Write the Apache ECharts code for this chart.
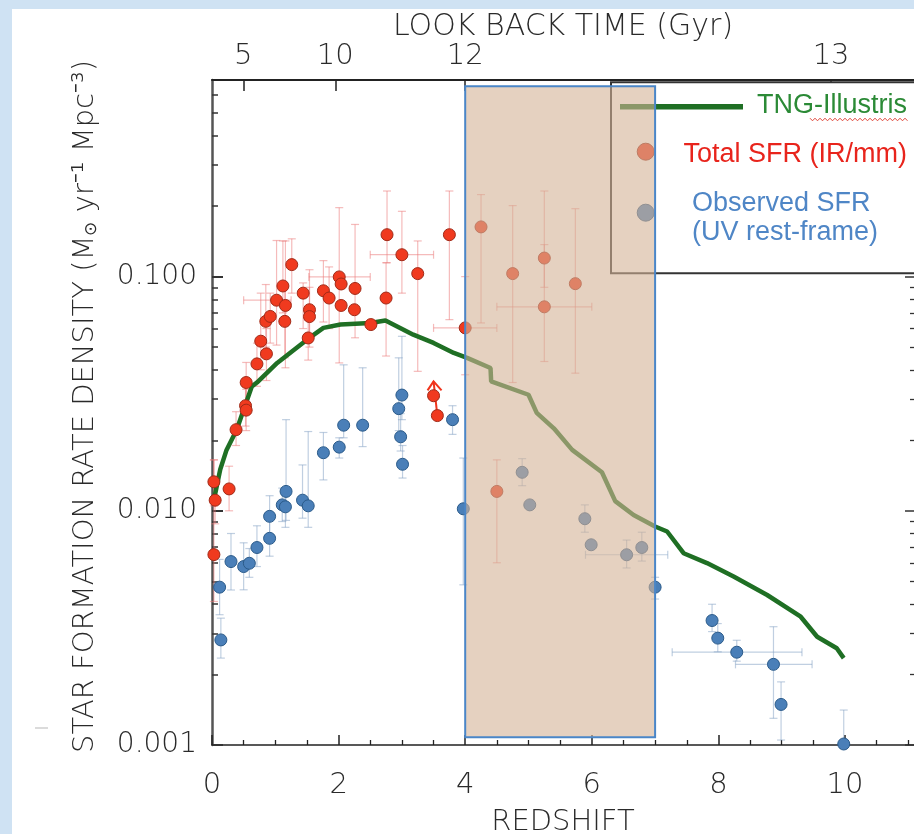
<!DOCTYPE html>
<html><head><meta charset="utf-8">
<script src="https://cdn.jsdelivr.net/npm/echarts@6/dist/echarts.min.js"></script>
<style>
html,body{margin:0;padding:0;background:#cfe2f3;width:914px;height:834px;overflow:hidden}
#c{position:absolute;left:12px;top:9px;width:902px;height:825px;background:#fff}
</style></head><body><div id="c"></div>
<script>
// ---------------- DATA ----------------
// TNG-Illustris model curve
const tngZ    = [0.02,0.13,0.23,0.39,0.63,0.71,1.03,1.50,1.76,2.03,2.50,2.74,3.18,3.50,3.82,4.03,4.40,4.41,5.00,5.13,5.40,5.69,6.16,6.37,6.66,7.00,7.19,7.45,7.82,8.24,8.77,9.30,9.56,9.87,9.98];
const tngSFRD = [0.0108,0.0150,0.0182,0.0222,0.0340,0.0353,0.0428,0.0538,0.0604,0.0624,0.0634,0.0649,0.0565,0.0521,0.0472,0.0450,0.0407,0.0357,0.0313,0.0262,0.0225,0.0182,0.0146,0.0110,0.0096,0.00857,0.00816,0.00659,0.00598,0.00524,0.00437,0.00353,0.00290,0.00259,0.00235];

// Total SFR (IR/mm)
const irZ    = [0.03,0.05,0.03,0.27,0.38,0.53,0.54,0.54,0.71,0.77,0.86,0.85,0.92,1.02,1.12,1.16,1.15,1.26,1.44,1.52,1.54,1.54,1.76,1.85,2.01,2.04,2.04,2.25,2.26,2.51,2.75,2.765,3.00,3.25,3.50,3.56,3.75,4.00,4.25,4.50,4.75,5.25,5.25,5.74];
const irSFRD = [0.0133,0.0111,0.0065,0.0124,0.0222,0.0281,0.0269,0.0353,0.0424,0.0530,0.0468,0.0644,0.0676,0.0793,0.0912,0.0753,0.0644,0.1125,0.0850,0.0547,0.0722,0.0675,0.0870,0.0810,0.0997,0.0930,0.0753,0.0722,0.0890,0.0624,0.0810,0.1510,0.1240,0.1030,0.0310,0.0255,0.1510,0.0604,0.1630,0.0121,0.1030,0.1200,0.0743,0.0933];
const irLo   = [0.0105,0.0088,0.0041,0.0100,0.0190,0.0230,0.0220,0.0290,0.0340,0.0400,0.0360,0.0500,0.0520,0.0510,0.0700,0.0408,0.0450,0.0850,0.0600,0.0440,0.0550,0.0500,0.0640,0.0600,0.0428,null,null,null,0.0548,null,0.0458,0.1146,0.0850,0.0394,null,null,0.0655,0.0381,0.0634,0.0060,0.0353,0.0900,0.0434,0.0387];
const irHi   = [0.0165,0.0135,0.0165,0.0155,0.0265,0.0340,0.0330,0.0430,0.0520,0.0850,0.0600,0.0925,0.0850,0.1426,0.1420,0.1420,0.0900,0.1450,0.0940,0.0650,0.1070,0.0900,0.1170,0.1100,0.1970,null,null,null,0.1670,null,0.1146,0.2320,0.1900,0.1420,null,null,0.2320,0.1000,0.2240,0.0165,0.2010,0.2320,0.1370,0.1950];
const irZLo  = [null,null,null,null,null,null,null,null,null,null,null,null,null,0.50,null,null,null,null,null,null,null,null,null,null,1.53,null,null,null,null,null,null,null,2.50,null,null,null,null,3.50,null,null,null,null,4.50,null];
const irZHi  = [null,null,null,null,null,null,null,null,null,null,null,null,null,1.25,null,null,null,null,null,null,null,null,null,null,2.50,null,null,null,null,null,null,null,3.50,null,null,null,null,4.50,null,null,null,null,6.00,null];

// lower-limit arrow (from point to arrow tip)
const limitFromZ = [3.56], limitFromSFRD = [0.0255], limitToZ = [3.50], limitToSFRD = [0.0357];

// Observed SFR (UV rest-frame)
const uvZ    = [0.12,0.14,0.30,0.50,0.59,0.71,0.91,0.91,1.11,1.17,1.16,1.43,1.52,1.76,2.01,2.08,2.38,2.95,3.00,2.98,3.01,3.80,3.97,4.90,5.02,5.89,5.99,6.55,6.79,7.00,7.90,7.99,8.29,8.87,8.99,9.98];
const uvSFRD = [0.00472,0.00281,0.00607,0.00578,0.00597,0.00697,0.00763,0.00947,0.0106,0.0121,0.0104,0.0111,0.0105,0.0177,0.0187,0.0232,0.0232,0.0273,0.0312,0.0207,0.0158,0.0245,0.0102,0.0146,0.0106,0.00925,0.00716,0.00649,0.00697,0.00472,0.00340,0.00286,0.00249,0.00221,0.00149,0.00101];
const uvLo   = [0.0036,0.00235,0.00459,0.0046,0.0052,0.00578,0.0064,0.0077,0.0090,0.0091,0.0085,0.0093,0.0085,0.01355,0.0168,0.0205,0.0188,0.0220,0.0245,0.0180,0.0138,0.0212,0.00483,0.0128,null,0.0081,null,0.0057,0.0061,0.0042,0.00305,0.0025,0.00228,0.0013,0.00105,0.00101];
const uvHi   = [0.0062,0.00348,0.0080,0.0073,0.0069,0.00863,0.0092,0.0116,0.0125,0.0245,0.0120,0.0157,0.0218,0.0216,0.0205,0.0420,0.0408,0.0450,0.0556,0.0260,0.0190,0.0281,0.0168,0.0167,null,0.0106,null,0.0075,0.0081,0.0052,0.00399,0.0033,0.0028,0.0032,0.00186,0.00141];
const uvZLo  = [null,null,null,null,null,null,null,null,null,null,null,null,null,null,null,null,null,null,null,null,null,null,null,null,null,null,null,5.90,null,null,null,null,7.27,8.27,null,null];
const uvZHi  = [null,null,null,null,null,null,null,null,null,null,null,null,null,null,null,null,null,null,null,null,null,null,null,null,null,null,null,7.20,null,null,null,null,9.32,9.48,null,null];

// highlighted redshift window
const windowZ = [4, 7];
const windowSFRD = [0.00108, 0.65];

// axes
const xRange = [0, 11.09];
const yRange = [0.001, 0.691];
const xMajorTicks = [0, 2, 4, 6, 8, 10];
const xMinorTicks = [0.5,1,1.5,2.5,3,3.5,4.5,5,5.5,6.5,7,7.5,8.5,9,9.5,10.5,11];
const yMajorTicks = [0.001, 0.01, 0.1];
const yMinorTicks = [0.002,0.003,0.004,0.005,0.006,0.007,0.008,0.009,0.02,0.03,0.04,0.05,0.06,0.07,0.08,0.09,0.2,0.3,0.4,0.5,0.6];
const lookbackZ = [0.494, 1.948, 4.0, 9.78];
const lookbackLabels = ['5', '10', '12', '13'];

// ---------------- CHART ----------------
const AX = "'DejaVu Sans', sans-serif";
const LG = "'Liberation Sans', Arial, sans-serif";
const TXT = '#2a2a2a';

function zip(...arrs) { return arrs[0].map((_, i) => arrs.map(a => a[i])); }

function errRender(color) {
  return function (params, api) {
    const x = api.value(0), y = api.value(1);
    const lo = api.value(2), hi = api.value(3), xl = api.value(4), xh = api.value(5);
    const kids = [];
    const st = { stroke: color, lineWidth: 1.2 };
    const cap = 4;
    const seg = (a, b) => kids.push({ type: 'line', shape: { x1: a[0], y1: a[1], x2: b[0], y2: b[1] }, style: st });
    if (isFinite(lo) && isFinite(hi)) {
      const a = api.coord([x, lo]), b = api.coord([x, hi]);
      seg(a, b);
      if (lo !== y) seg([a[0] - cap, a[1]], [a[0] + cap, a[1]]);
      seg([b[0] - cap, b[1]], [b[0] + cap, b[1]]);
    }
    if (isFinite(xl) && isFinite(xh)) {
      const a = api.coord([xl, y]), b = api.coord([xh, y]);
      seg(a, b);
      seg([a[0], a[1] - cap], [a[0], a[1] + cap]);
      seg([b[0], b[1] - cap], [b[0], b[1] + cap]);
    }
    return { type: 'group', children: kids };
  };
}

function arrowRender(params, api) {
  const a = api.coord([api.value(0), api.value(1)]);
  const b = api.coord([api.value(2), api.value(3)]);
  const st = { stroke: '#f0341c', lineWidth: 2, fill: null };
  return { type: 'group', children: [
    { type: 'line', shape: { x1: a[0], y1: a[1], x2: b[0], y2: b[1] }, style: st },
    { type: 'polyline', shape: { points: [[b[0] - 6, b[1] + 9], [b[0], b[1]], [b[0] + 8, b[1] + 9]] }, style: st }
  ]};
}

function wavy(x0, x1, y) {
  const pts = []; let k = 0;
  for (let x = x0; x <= x1; x += 2.5, k++) pts.push([x, y + (k % 2 ? 1.3 : -1.3)]);
  return pts;
}

const baseX = { type: 'value', min: xRange[0], max: xRange[1], splitLine: { show: false } };
const baseY = { type: 'log', logBase: 10, min: yRange[0], max: yRange[1], splitLine: { show: false } };

const option = {
  animation: false,
  backgroundColor: '#ffffff',
  grid: { left: 200, top: 71, right: 0, bottom: 89, containLabel: false, outerBoundsMode: 'none' },
  xAxis: [
    Object.assign({}, baseX, {
      position: 'bottom',
      axisLine: { show: true, onZero: false, lineStyle: { color: '#222', width: 1.5 } },
      axisTick: { show: true, inside: true, length: 10, customValues: xMajorTicks, lineStyle: { color: '#222', width: 1.5 } },
      axisLabel: { show: true, customValues: xMajorTicks, margin: 26, fontSize: 29, color: TXT, fontFamily: AX, fontWeight: 200 },
      name: 'REDSHIFT', nameLocation: 'middle', nameGap: 63,
      nameTextStyle: { fontSize: 29, color: TXT, fontFamily: AX, fontWeight: 200 }
    }),
    Object.assign({}, baseX, {
      position: 'bottom',
      axisLine: { show: false, onZero: false },
      axisTick: { show: true, inside: true, length: 5, customValues: xMinorTicks, lineStyle: { color: '#222', width: 1.3 } },
      axisLabel: { show: false }
    }),
    Object.assign({}, baseX, {
      position: 'top',
      axisLine: { show: true, onZero: false, lineStyle: { color: '#222', width: 2 } },
      axisTick: { show: true, inside: true, length: 11, customValues: lookbackZ, lineStyle: { color: '#222', width: 1.5 } },
      axisLabel: { show: true, customValues: lookbackZ, margin: 9, fontSize: 29, color: TXT, fontFamily: AX, fontWeight: 200,
        formatter: v => { const i = lookbackZ.findIndex(z => Math.abs(z - v) < 1e-6); return i >= 0 ? lookbackLabels[i] : ''; } },
      name: 'LOOK BACK TIME (Gyr)', nameLocation: 'middle', nameGap: 38, nameMoveOverlap: false,
      nameTextStyle: { fontSize: 30, color: TXT, fontFamily: AX, fontWeight: 200 }
    })
  ],
  yAxis: [
    Object.assign({}, baseY, {
      position: 'left',
      axisLine: { show: true, onZero: false, lineStyle: { color: '#555', width: 2.5 } },
      axisTick: { show: true, inside: true, length: 11, customValues: yMajorTicks, lineStyle: { color: '#333', width: 2 } },
      axisLabel: { show: true, customValues: yMajorTicks, margin: 15, fontSize: 28, color: TXT, fontFamily: AX, fontWeight: 200,
        formatter: v => Number(v).toFixed(3) },
      name: 'STAR FORMATION RATE DENSITY (M{s|\u2299} yr\u207B\u00B9 Mpc\u207B\u00B3)', nameLocation: 'middle', nameGap: 112,
      nameTextStyle: { fontSize: 29, color: TXT, fontFamily: AX, fontWeight: 200, padding: [0, 0, 0, 12],
        rich: { s: { fontSize: 17, color: TXT, fontFamily: AX, fontWeight: 200, verticalAlign: 'bottom', padding: [8, 0, 0, 0] } } }
    }),
    Object.assign({}, baseY, {
      position: 'left',
      axisLine: { show: false, onZero: false },
      axisTick: { show: true, inside: true, length: 6, customValues: yMinorTicks, lineStyle: { color: '#333', width: 1.5 } },
      axisLabel: { show: false }
    }),
    Object.assign({}, baseY, {
      position: 'right',
      axisLine: { show: false, onZero: false },
      axisTick: { show: true, inside: true, length: 9, customValues: yMajorTicks, lineStyle: { color: '#333', width: 1.5 } },
      axisLabel: { show: false }
    }),
    Object.assign({}, baseY, {
      position: 'right',
      axisLine: { show: false, onZero: false },
      axisTick: { show: true, inside: true, length: 4, customValues: yMinorTicks, lineStyle: { color: '#333', width: 1.3 } },
      axisLabel: { show: false }
    })
  ],
  graphic: [
    { type: 'rect', z: 5, silent: true, shape: { x: 599, y: 73.3, width: 330, height: 191 },
      style: { fill: '#ffffff', stroke: '#333', lineWidth: 2 } },
    { type: 'line', z: 6, silent: true, shape: { x1: 608, y1: 97.7, x2: 731, y2: 97.7 },
      style: { stroke: '#1f6f24', lineWidth: 5.5 } },
    { type: 'text', z: 6, silent: true, x: 895, y: 96.5,
      style: { text: 'TNG-Illustris', fill: '#2b8a36', font: '27px ' + LG, textAlign: 'right', textVerticalAlign: 'middle' } },
    { type: 'polyline', z: 6, silent: true, shape: { points: wavy(798, 896, 110.5) },
      style: { stroke: '#e0483c', lineWidth: 1, fill: null } },
    { type: 'circle', z: 6, silent: true, shape: { cx: 633.7, cy: 142.7, r: 8.5 },
      style: { fill: '#ee3a22', stroke: '#9a2a18', lineWidth: 1 } },
    { type: 'text', z: 6, silent: true, x: 895, y: 146,
      style: { text: 'Total SFR (IR/mm)', fill: '#e8241c', font: '27px ' + LG, textAlign: 'right', textVerticalAlign: 'middle' } },
    { type: 'circle', z: 6, silent: true, shape: { cx: 633.7, cy: 203.7, r: 8.5 },
      style: { fill: '#4a7fb8', stroke: '#2b5b8a', lineWidth: 1 } },
    { type: 'text', z: 6, silent: true, x: 680, y: 194.5,
      style: { text: 'Observed SFR', fill: '#4f86c6', font: '27px ' + LG, textAlign: 'left', textVerticalAlign: 'middle' } },
    { type: 'text', z: 6, silent: true, x: 680, y: 224,
      style: { text: '(UV rest-frame)', fill: '#4f86c6', font: '27px ' + LG, textAlign: 'left', textVerticalAlign: 'middle' } },
    { type: 'line', z: 6, silent: true, shape: { x1: 23, y1: 719, x2: 36, y2: 719 },
      style: { stroke: '#cfcfcf', lineWidth: 1.5 } }
  ],
  series: [
    {
      type: 'custom', name: 'irErr', z: 1, silent: true, xAxisIndex: 0, yAxisIndex: 0,
      renderItem: errRender('rgba(236,120,120,0.5)'),
      encode: { x: 0, y: 1 },
      data: zip(irZ, irSFRD, irLo, irHi, irZLo, irZHi)
    },
    {
      type: 'custom', name: 'uvErr', z: 1, silent: true, xAxisIndex: 0, yAxisIndex: 0,
      renderItem: errRender('rgba(130,160,195,0.5)'),
      encode: { x: 0, y: 1 },
      data: zip(uvZ, uvSFRD, uvLo, uvHi, uvZLo, uvZHi)
    },
    {
      type: 'line', name: 'TNG-Illustris', z: 2, silent: true, xAxisIndex: 0, yAxisIndex: 0,
      showSymbol: false, symbol: 'none', smooth: false,
      lineStyle: { color: '#1f6f24', width: 4.5 },
      data: zip(tngZ, tngSFRD),
      markArea: {
        z: 10, silent: true,
        itemStyle: { color: 'rgba(212,178,150,0.6)', borderColor: '#4a86c8', borderWidth: 2 },
        label: { show: false },
        data: [[{ xAxis: windowZ[0], yAxis: windowSFRD[0] }, { xAxis: windowZ[1], yAxis: windowSFRD[1] }]]
      }
    },
    {
      type: 'custom', name: 'limit', z: 3, silent: true, xAxisIndex: 0, yAxisIndex: 0,
      renderItem: arrowRender, encode: { x: 0, y: 1 },
      data: zip(limitFromZ, limitFromSFRD, limitToZ, limitToSFRD)
    },
    {
      type: 'scatter', name: 'Observed SFR', z: 3, silent: true, xAxisIndex: 0, yAxisIndex: 0,
      symbol: 'circle', symbolSize: 12, clip: false,
      itemStyle: { color: '#4a7fb8', borderColor: '#2b5b8a', borderWidth: 1, opacity: 1 },
      data: zip(uvZ, uvSFRD)
    },
    {
      type: 'scatter', name: 'Total SFR', z: 3, silent: true, xAxisIndex: 0, yAxisIndex: 0,
      symbol: 'circle', symbolSize: 12, clip: false,
      itemStyle: { color: '#f03a1f', borderColor: '#a02a18', borderWidth: 1, opacity: 1 },
      data: zip(irZ, irSFRD)
    }
  ]
};

const chart = echarts.init(document.getElementById('c'), null, { renderer: 'canvas' });
chart.setOption(option);
</script>
</body></html>
